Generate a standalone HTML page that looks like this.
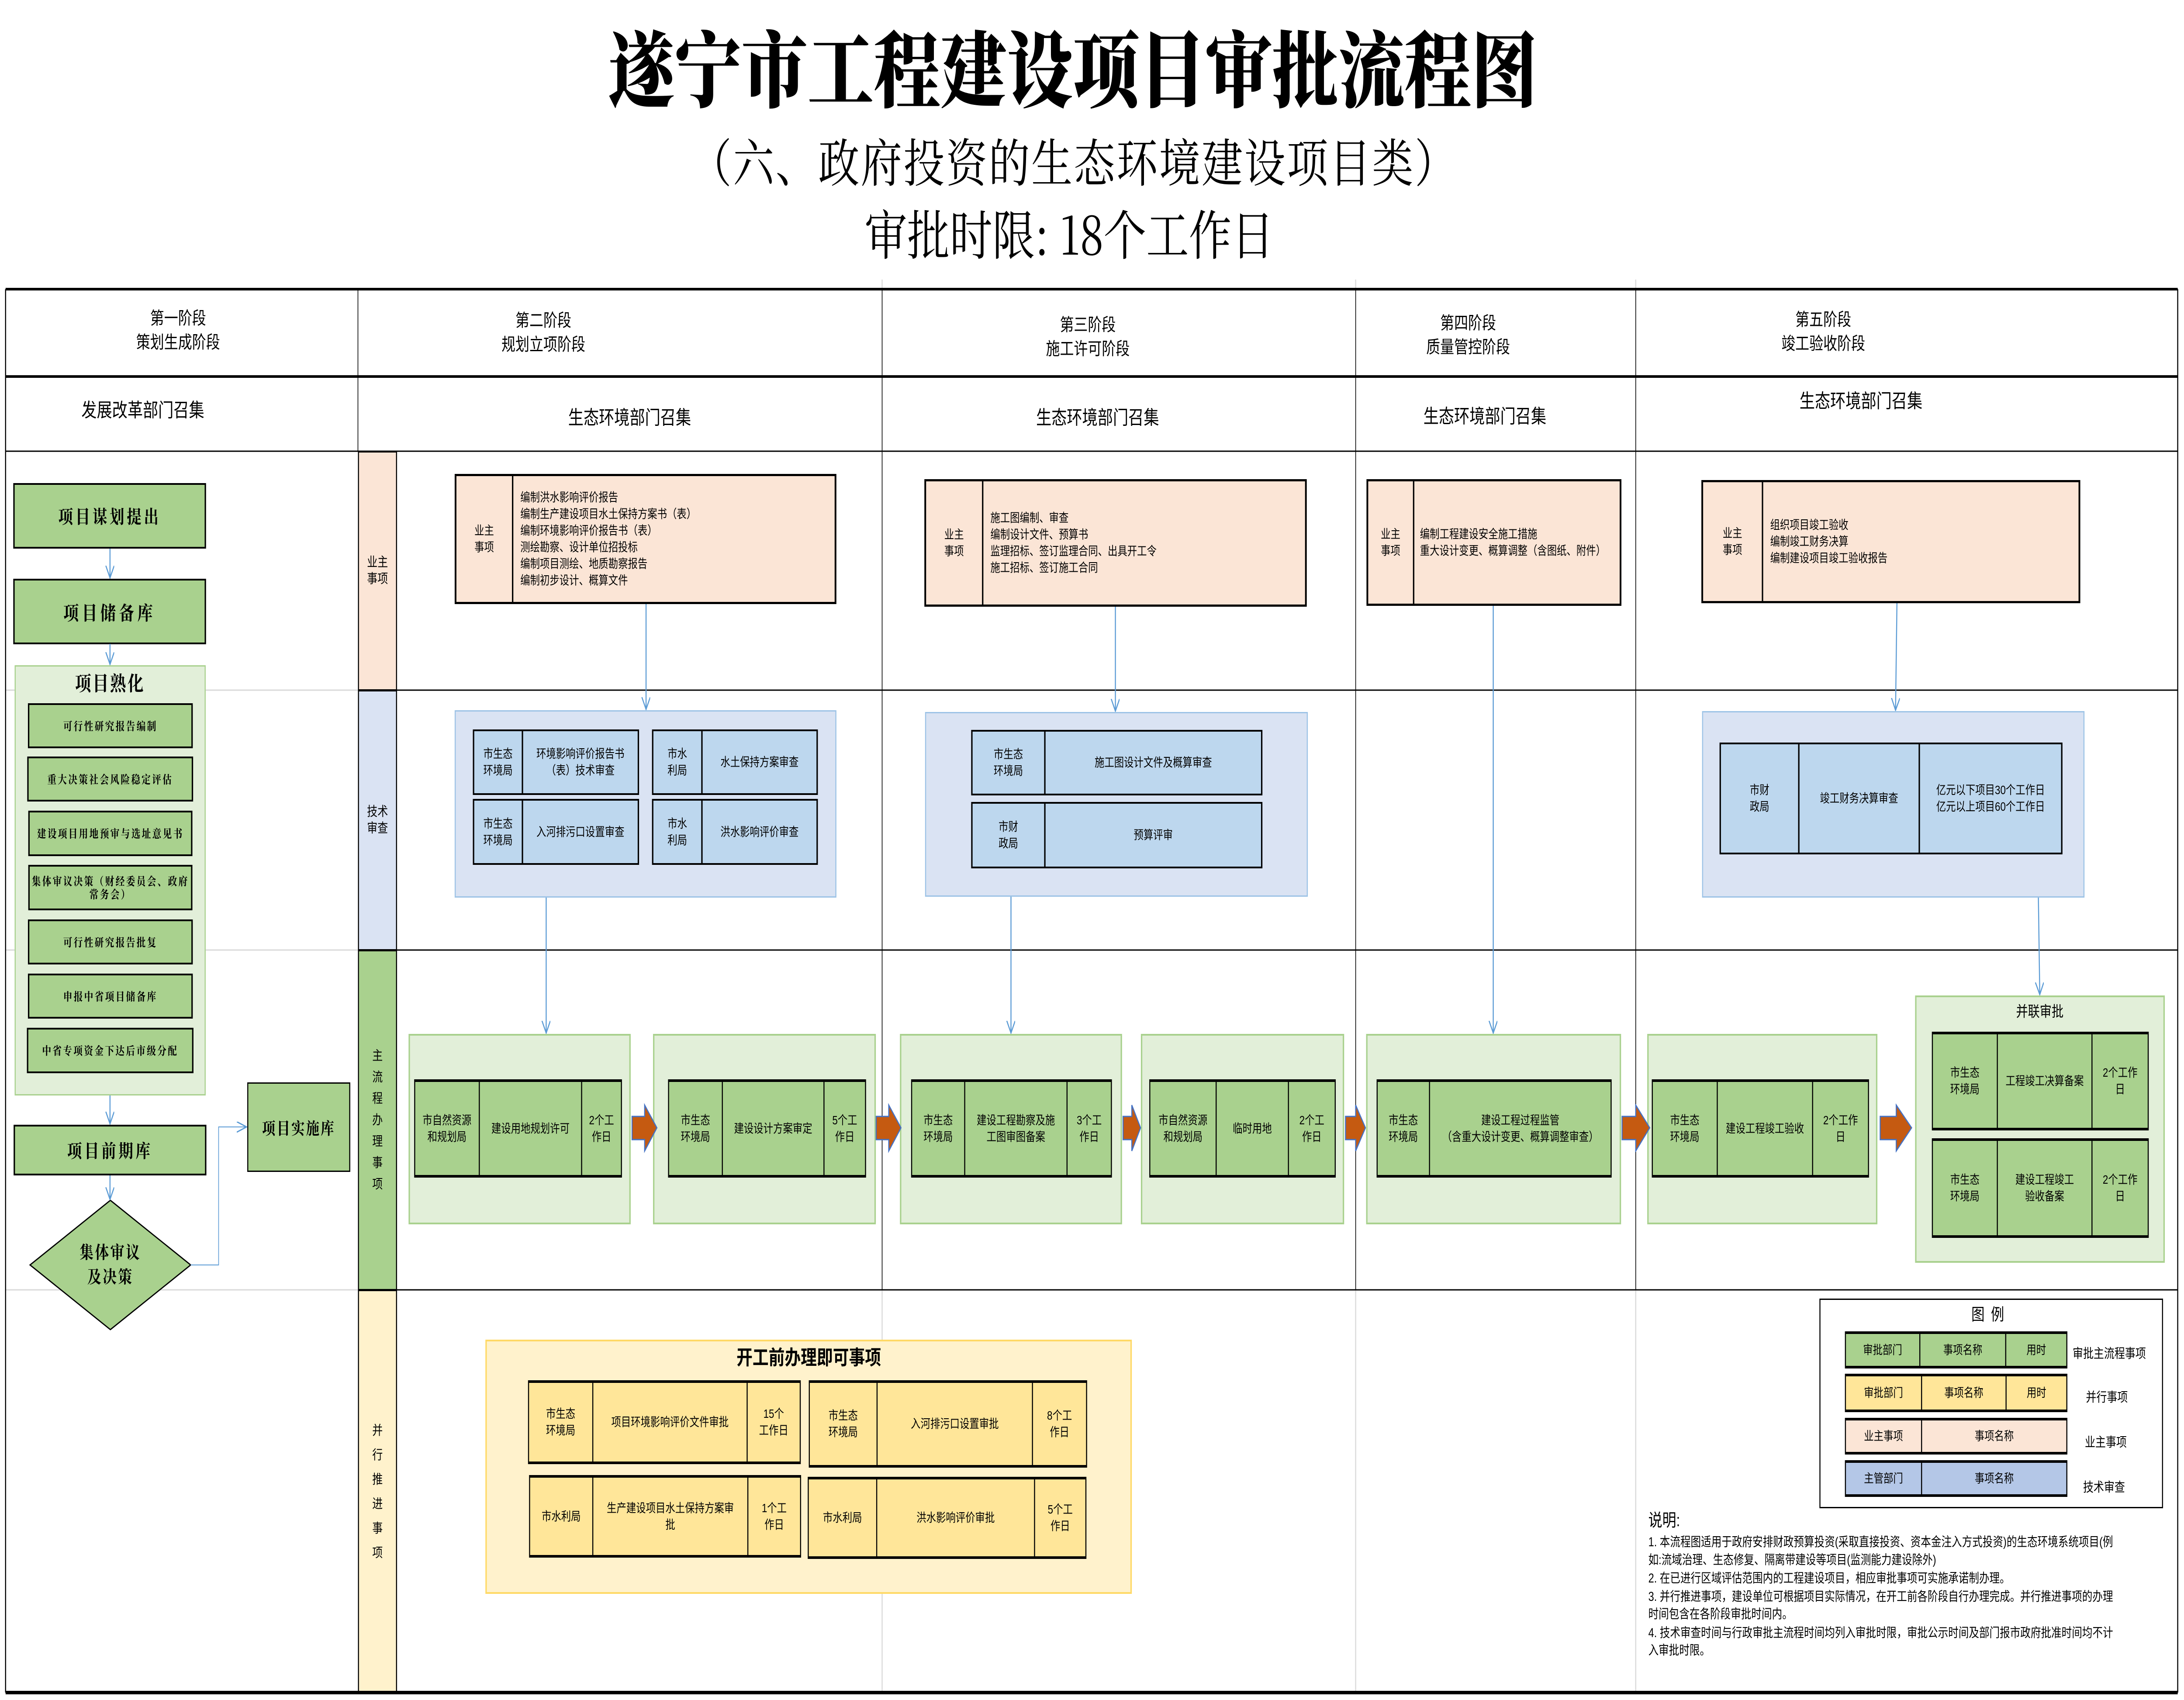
<!DOCTYPE html>
<html><head><meta charset="utf-8">
<style>
*{margin:0;padding:0;box-sizing:border-box}
html,body{width:100%;height:100%;overflow:hidden;background:#fff}
#sv{position:absolute;left:0;top:0;width:100vw;height:100vh;display:block}
#r{width:6254px;height:3892px;background:#fff;position:relative;overflow:hidden;font-family:"Liberation Sans","Noto Sans CJK SC",sans-serif;color:#000}
.a{position:absolute}
.c{display:flex;align-items:center;justify-content:center;text-align:center}
.t{position:absolute;white-space:nowrap;transform:translate(-50%,-50%);text-align:center}
.row{position:absolute;display:flex;border:3px solid #000;border-top-width:6px;border-bottom-width:6px}
.row>div{display:flex;align-items:center;justify-content:center;text-align:center;border-left:3px solid #000;font-size:28px;line-height:38px}
.row>div:first-child{border-left:none}
.g{background:#a9d18e}.y{background:#ffe699}.b{background:#bdd7ee}.p{background:#fbe5d6}
.gc{position:absolute;background:#e2efd9;border:4px solid #a9d18e}
.bc{position:absolute;background:#dae3f3;border:3px solid #9dc3e6}
.own{position:absolute;display:flex;border:5px solid #000;background:#fbe5d6}
.own>div:first-child{display:flex;align-items:center;justify-content:center;text-align:center;border-right:4px solid #000;font-size:28px;line-height:38px}
.own>div:last-child{display:flex;align-items:center;padding-left:20px;font-size:28px;line-height:38px;white-space:nowrap}
.tb{position:absolute;display:flex;border:4px solid #000;background:#bdd7ee}
.tb>div{display:flex;align-items:center;justify-content:center;text-align:center;border-left:4px solid #000;font-size:28px;line-height:38px}
.tb>div:first-child{border-left:none}
.lb{position:absolute;left:16px;width:552px;border:4px solid #000;background:#a9d18e;font-size:26px;letter-spacing:4px;font-weight:bold;font-family:"Noto Serif CJK SC",serif;line-height:30px}
.big{position:absolute;border:4px solid #000;background:#a9d18e;font-weight:bold;font-family:"Noto Serif CJK SC",serif}
.lane{position:absolute;left:1025px;width:112px;border:3px solid #000;font-size:30px;line-height:38px}
.hd{font-size:40px;line-height:55px}
.note{position:absolute;left:4720px;font-size:29.5px;white-space:nowrap;line-height:41px}
</style></head><body>
<svg id="sv" viewBox="0 0 6254 3892" preserveAspectRatio="none" xmlns="http://www.w3.org/2000/svg">
<foreignObject x="0" y="0" width="6254" height="3892">
<div id="r" xmlns="http://www.w3.org/1999/xhtml">

<!-- Titles -->
<div class="a c" style="left:1535px;top:38px;width:3075px;height:220px;font-size:190px;font-weight:900;font-family:'Noto Serif CJK SC',serif;white-space:nowrap">遂宁市工程建设项目审批流程图</div>
<div class="a c" style="left:1875px;top:295px;width:2400px;height:140px;font-size:118px;font-family:'Noto Serif CJK SC',serif;white-space:nowrap;letter-spacing:4px">（六、政府投资的生态环境建设项目类）</div>
<div class="a c" style="left:2374px;top:460px;width:1376px;height:140px;font-size:122px;font-family:'Noto Serif CJK SC',serif;white-space:nowrap">审批时限: 18个工作日</div>

<!-- lanes -->
<div class="lane c p" style="top:1033px;height:548px"><div>业主<br/>事项</div></div>
<div class="lane c" style="top:1580px;height:596px;background:#dae3f3"><div>技术<br/>审查</div></div>
<div class="lane c g" style="top:2175px;height:779px"><div style="line-height:49px">主<br/>流<br/>程<br/>办<br/>理<br/>事<br/>项</div></div>
<div class="lane c" style="top:2953px;height:925px;background:#fff2cc"><div style="line-height:56px">并<br/>行<br/>推<br/>进<br/>事<br/>项</div></div>

<svg class="a" style="left:0;top:0" width="6254" height="3892">
<g stroke="#d9d9d9" stroke-width="3">
<line x1="16" y1="1580" x2="1025" y2="1580"/><line x1="16" y1="2175" x2="1025" y2="2175"/><line x1="16" y1="2953" x2="1025" y2="2953"/>
<line x1="2526" y1="2953" x2="2526" y2="3873"/><line x1="3882" y1="2953" x2="3882" y2="3873"/><line x1="4684" y1="2953" x2="4684" y2="3873"/>
<line x1="2526" y1="640" x2="2526" y2="662"/><line x1="3882" y1="640" x2="3882" y2="662"/><line x1="4684" y1="640" x2="4684" y2="662"/>
</g>
<g stroke="#000">
<line x1="16" y1="662" x2="6236" y2="662" stroke-width="6"/>
<line x1="16" y1="862" x2="6236" y2="862" stroke-width="6"/>
<line x1="16" y1="1033" x2="6236" y2="1033" stroke-width="3"/>
<line x1="1137" y1="1580" x2="6236" y2="1580" stroke-width="3"/>
<line x1="1137" y1="2175" x2="6236" y2="2175" stroke-width="3"/>
<line x1="1137" y1="2953" x2="6236" y2="2953" stroke-width="3"/>
<line x1="16" y1="3875" x2="6236" y2="3875" stroke-width="8"/>
<line x1="16" y1="662" x2="16" y2="3875" stroke-width="3"/>
<line x1="6236" y1="662" x2="6236" y2="3875" stroke-width="3"/>
<line x1="1025" y1="662" x2="1025" y2="1033" stroke-width="2"/>
<line x1="2526" y1="662" x2="2526" y2="2953" stroke-width="2"/>
<line x1="3882" y1="662" x2="3882" y2="2953" stroke-width="2"/>
<line x1="4684" y1="662" x2="4684" y2="2953" stroke-width="2"/>
</g>
</svg>

<!-- Header texts -->
<div class="t hd" style="left:510px;top:757px">第一阶段<br/>策划生成阶段</div>
<div class="t hd" style="left:1556px;top:762px">第二阶段<br/>规划立项阶段</div>
<div class="t hd" style="left:3115px;top:772px">第三阶段<br/>施工许可阶段</div>
<div class="t hd" style="left:4204px;top:768px">第四阶段<br/>质量管控阶段</div>
<div class="t hd" style="left:5221px;top:760px">第五阶段<br/>竣工验收阶段</div>
<div class="t" style="left:409px;top:935px;font-size:44px">发展改革部门召集</div>
<div class="t" style="left:1803px;top:952px;font-size:44px">生态环境部门召集</div>
<div class="t" style="left:3143px;top:952px;font-size:44px">生态环境部门召集</div>
<div class="t" style="left:4252px;top:949px;font-size:44px">生态环境部门召集</div>
<div class="t" style="left:5329px;top:914px;font-size:44px">生态环境部门召集</div>

<!-- Phase 1 -->
<div class="big c" style="left:38px;top:1106px;width:552px;height:150px;font-size:42px;letter-spacing:7px">项目谋划提出</div>
<div class="big c" style="left:38px;top:1325px;width:552px;height:150px;font-size:44px;letter-spacing:9px">项目储备库</div>
<div class="a" style="left:42px;top:1523px;width:547px;height:985px;background:#e2efd9;border:3px solid #a9d18e"></div>
<div class="t" style="left:315px;top:1562px;font-size:46px;font-weight:bold;font-family:'Noto Serif CJK SC',serif;letter-spacing:4px">项目熟化</div>
<div class="lb c" style="left:80px;top:1610px;width:472px;height:103px">可行性研究报告编制</div>
<div class="lb c" style="left:78px;top:1732px;width:475px;height:103px">重大决策社会风险稳定评估</div>
<div class="lb c" style="left:81px;top:1856px;width:470px;height:104px">建设项目用地预审与选址意见书</div>
<div class="lb c" style="left:81px;top:1980px;width:470px;height:104px">集体审议决策（财经委员会、政府常务会）</div>
<div class="lb c" style="left:80px;top:2105px;width:472px;height:103px">可行性研究报告批复</div>
<div class="lb c" style="left:80px;top:2229px;width:472px;height:103px">申报中省项目储备库</div>
<div class="lb c" style="left:77px;top:2353px;width:477px;height:104px">中省专项资金下达后市级分配</div>
<div class="big c" style="left:39px;top:2575px;width:552px;height:116px;font-size:42px;letter-spacing:7px">项目前期库</div>
<div class="big c" style="left:708px;top:2478px;width:295px;height:205px;font-size:38px;letter-spacing:4px;border-width:3px">项目实施库</div>
<svg class="a" style="left:0;top:0" width="1100" height="3100">
<polygon points="316,2748 546,2896 316,3044 86,2896" fill="#a9d18e" stroke="#000" stroke-width="3"/>
</svg>
<div class="t" style="left:316px;top:2893px;font-size:40px;font-weight:bold;font-family:'Noto Serif CJK SC',serif;line-height:56px;letter-spacing:4px">集体审议<br/>及决策</div>

<!-- 业主 boxes -->
<div class="own" style="left:1302px;top:1085px;width:1093px;height:298px"><div style="width:163px">业主<br/>事项</div><div style="flex:1">编制洪水影响评价报告<br/>编制生产建设项目水土保持方案书（表）<br/>编制环境影响评价报告书（表）<br/>测绘勘察、设计单位招投标<br/>编制项目测绘、地质勘察报告<br/>编制初步设计、概算文件</div></div>
<div class="own" style="left:2647px;top:1097px;width:1095px;height:292px"><div style="width:164px">业主<br/>事项</div><div style="flex:1">施工图编制、审查<br/>编制设计文件、预算书<br/>监理招标、签订监理合同、出具开工令<br/>施工招标、签订施工合同</div></div>
<div class="own" style="left:3913px;top:1097px;width:730px;height:290px"><div style="width:132px">业主<br/>事项</div><div style="flex:1;padding-left:16px">编制工程建设安全施工措施<br/>重大设计变更、概算调整（含图纸、附件）</div></div>
<div class="own" style="left:4872px;top:1099px;width:1085px;height:282px"><div style="width:172px">业主<br/>事项</div><div style="flex:1">组织项目竣工验收<br/>编制竣工财务决算<br/>编制建设项目竣工验收报告</div></div>

<!-- Tech review -->
<div class="bc" style="left:1302px;top:1626px;width:1093px;height:429px"></div>
<div class="tb" style="left:1354px;top:1670px;width:476px;height:150px"><div style="width:136px">市生态<br/>环境局</div><div style="flex:1">环境影响评价报告书<br/>（表）技术审查</div></div>
<div class="tb" style="left:1354px;top:1829px;width:476px;height:151px"><div style="width:136px">市生态<br/>环境局</div><div style="flex:1">入河排污口设置审查</div></div>
<div class="tb" style="left:1867px;top:1670px;width:475px;height:150px"><div style="width:137px">市水<br/>利局</div><div style="flex:1">水土保持方案审查</div></div>
<div class="tb" style="left:1867px;top:1829px;width:475px;height:151px"><div style="width:137px">市水<br/>利局</div><div style="flex:1">洪水影响评价审查</div></div>

<div class="bc" style="left:2649px;top:1630px;width:1096px;height:423px"></div>
<div class="tb" style="left:2781px;top:1671px;width:834px;height:150px"><div style="width:205px">市生态<br/>环境局</div><div style="flex:1">施工图设计文件及概算审查</div></div>
<div class="tb" style="left:2781px;top:1836px;width:834px;height:152px"><div style="width:205px">市财<br/>政局</div><div style="flex:1">预算评审</div></div>

<div class="bc" style="left:4874px;top:1628px;width:1095px;height:427px"></div>
<div class="tb" style="left:4924px;top:1700px;width:982px;height:256px"><div style="width:221px">市财<br/>政局</div><div style="width:345px">竣工财务决算审查</div><div style="flex:1">亿元以下项目30个工作日<br/>亿元以上项目60个工作日</div></div>

<!-- Main flow -->
<div class="gc" style="left:1170px;top:2367px;width:636px;height:436px"></div>
<div class="row g" style="left:1186px;top:2471px;width:595px;height:225px"><div style="width:182px">市自然资源<br/>和规划局</div><div style="width:293px">建设用地规划许可</div><div style="flex:1">2个工<br/>作日</div></div>
<div class="gc" style="left:1870px;top:2367px;width:638px;height:436px"></div>
<div class="row g" style="left:1913px;top:2471px;width:567px;height:225px"><div style="width:151px">市生态<br/>环境局</div><div style="width:291px">建设设计方案审定</div><div style="flex:1">5个工<br/>作日</div></div>
<div class="gc" style="left:2577px;top:2367px;width:636px;height:436px"></div>
<div class="row g" style="left:2609px;top:2471px;width:575px;height:225px"><div style="width:149px">市生态<br/>环境局</div><div style="width:293px">建设工程勘察及施<br/>工图审图备案</div><div style="flex:1">3个工<br/>作日</div></div>
<div class="gc" style="left:3267px;top:2367px;width:582px;height:436px"></div>
<div class="row g" style="left:3291px;top:2471px;width:534px;height:225px"><div style="width:187px">市自然资源<br/>和规划局</div><div style="width:207px">临时用地</div><div style="flex:1">2个工<br/>作日</div></div>
<div class="gc" style="left:3912px;top:2367px;width:730px;height:436px"></div>
<div class="row g" style="left:3942px;top:2471px;width:673px;height:225px"><div style="width:147px">市生态<br/>环境局</div><div style="flex:1">建设工程过程监管<br/>（含重大设计变更、概算调整审查）</div></div>
<div class="gc" style="left:4717px;top:2367px;width:659px;height:436px"></div>
<div class="row g" style="left:4730px;top:2471px;width:622px;height:225px"><div style="width:183px">市生态<br/>环境局</div><div style="width:273px">建设工程竣工验收</div><div style="flex:1">2个工作<br/>日</div></div>
<div class="gc" style="left:5484px;top:2279px;width:715px;height:612px"></div>
<div class="t" style="left:5841px;top:2313px;font-size:34px">并联审批</div>
<div class="row g" style="left:5532px;top:2362px;width:621px;height:226px"><div style="width:183px">市生态<br/>环境局</div><div style="width:271px">工程竣工决算备案</div><div style="flex:1">2个工作<br/>日</div></div>
<div class="row g" style="left:5532px;top:2606px;width:621px;height:228px"><div style="width:183px">市生态<br/>环境局</div><div style="width:271px">建设工程竣工<br/>验收备案</div><div style="flex:1">2个工作<br/>日</div></div>

<!-- Parallel -->
<div class="a" style="left:1390px;top:3067px;width:1851px;height:582px;background:#fff2cc;border:4px solid #ffd966"></div>
<div class="t" style="left:2316px;top:3105px;font-size:46px;font-weight:bold">开工前办理即可事项</div>
<div class="row y" style="left:1512px;top:3160px;width:781px;height:192px"><div style="width:181px">市生态<br/>环境局</div><div style="width:442px">项目环境影响评价文件审批</div><div style="flex:1">15个<br/>工作日</div></div>
<div class="row y" style="left:2316px;top:3160px;width:797px;height:200px"><div style="width:191px">市生态<br/>环境局</div><div style="width:445px">入河排污口设置审批</div><div style="flex:1">8个工<br/>作日</div></div>
<div class="row y" style="left:1515px;top:3377px;width:779px;height:189px"><div style="width:178px">市水利局</div><div style="width:444px">生产建设项目水土保持方案审<br/>批</div><div style="flex:1">1个工<br/>作日</div></div>
<div class="row y" style="left:2313px;top:3381px;width:798px;height:188px"><div style="width:193px">市水利局</div><div style="width:452px">洪水影响评价审批</div><div style="flex:1">5个工<br/>作日</div></div>

<!-- Legend -->
<div class="a" style="left:5210px;top:2973px;width:984px;height:480px;border:3px solid #000;background:#fff"></div>
<div class="t" style="left:5701px;top:3006px;font-size:38px;letter-spacing:18px">图例</div>
<div class="row g" style="left:5283px;top:3048px;width:637px;height:85px"><div style="width:210px">审批部门</div><div style="width:246px">事项名称</div><div style="flex:1">用时</div></div>
<div class="row y" style="left:5283px;top:3145px;width:637px;height:88px"><div style="width:215px">审批部门</div><div style="width:242px">事项名称</div><div style="flex:1">用时</div></div>
<div class="row p" style="left:5283px;top:3246px;width:637px;height:84px"><div style="width:215px">业主事项</div><div style="flex:1">事项名称</div></div>
<div class="row" style="left:5283px;top:3343px;width:637px;height:84px;background:#b4c7e7"><div style="width:215px">主管部门</div><div style="flex:1">事项名称</div></div>
<div class="t" style="left:6040px;top:3096px;font-size:30px">审批主流程事项</div>
<div class="t" style="left:6033px;top:3196px;font-size:30px">并行事项</div>
<div class="t" style="left:6030px;top:3299px;font-size:30px">业主事项</div>
<div class="t" style="left:6025px;top:3402px;font-size:30px">技术审查</div>

<!-- Notes -->
<div class="note" style="top:3456px;font-size:40px;line-height:50px">说明:</div>
<div class="note" style="top:3510px">1. 本流程图适用于政府安排财政预算投资(采取直接投资、资本金注入方式投资)的生态环境系统项目(例</div>
<div class="note" style="top:3551px">如:流域治理、生态修复、隔离带建设等项目(监测能力建设除外)</div>
<div class="note" style="top:3593px">2. 在已进行区域评估范围内的工程建设项目，相应审批事项可实施承诺制办理。</div>
<div class="note" style="top:3635px">3. 并行推进事项，建设单位可根据项目实际情况，在开工前各阶段自行办理完成。并行推进事项的办理</div>
<div class="note" style="top:3675px">时间包含在各阶段审批时间内。</div>
<div class="note" style="top:3718px">4. 技术审查时间与行政审批主流程时间均列入审批时限，审批公示时间及部门报市政府批准时间均不计</div>
<div class="note" style="top:3758px">入审批时限。</div>

<!-- connectors & arrows -->
<svg class="a" style="left:0;top:0" width="6254" height="3892">
<defs><marker id="m" markerWidth="30" markerHeight="30" refX="28" refY="12" orient="auto" markerUnits="userSpaceOnUse"><path d="M0,0 L28,12 L0,24" fill="none" stroke="#5b9bd5" stroke-width="3"/></marker></defs>
<g stroke="#5b9bd5" stroke-width="3" fill="none" marker-end="url(#m)">
<line x1="315" y1="1256" x2="315" y2="1323"/>
<line x1="315" y1="1474" x2="315" y2="1521"/>
<line x1="315" y1="2508" x2="315" y2="2573"/>
<line x1="315" y1="2691" x2="315" y2="2746"/>
<polyline points="546,2896 626,2896 626,2580 706,2580" stroke-width="2"/>
<line x1="1850" y1="1383" x2="1850" y2="1624"/>
<line x1="1564" y1="2055" x2="1564" y2="2365"/>
<line x1="3194" y1="1389" x2="3194" y2="1628"/>
<line x1="2895" y1="2053" x2="2895" y2="2365"/>
<line x1="4276" y1="1387" x2="4276" y2="2365"/>
<line x1="5432" y1="1381" x2="5428" y2="1626"/>
<line x1="5837" y1="2055" x2="5841" y2="2277"/>
</g>
<g fill="#c55a11" stroke="#4472c4" stroke-width="3">
<polygon points="1810,2556 1846,2556 1846,2530 1881,2582 1846,2635 1846,2609 1810,2609"/>
<polygon points="2509,2556 2545,2556 2545,2530 2580,2582 2545,2635 2545,2609 2509,2609"/>
<polygon points="3216,2556 3241,2556 3241,2530 3266,2582 3241,2635 3241,2609 3216,2609"/>
<polygon points="3853,2556 3882,2556 3882,2530 3910,2582 3882,2635 3882,2609 3853,2609"/>
<polygon points="4645,2556 4684,2556 4684,2530 4724,2582 4684,2635 4684,2609 4645,2609"/>
<polygon points="5384,2556 5430,2556 5430,2530 5474,2582 5430,2635 5430,2609 5384,2609"/>
</g>
</svg>
</div>
</foreignObject>
</svg>
</body></html>
